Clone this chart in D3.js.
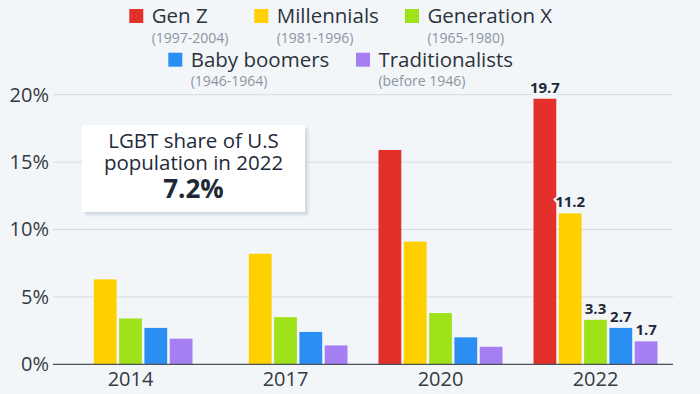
<!DOCTYPE html>
<html>
<head>
<meta charset="utf-8">
<script src="https://cdn.jsdelivr.net/npm/d3@7"></script>
<style>
  html, body { margin: 0; padding: 0; background: #f3f6f9; }
  svg { display: block; font-family: "Open Sans", "Noto Sans", sans-serif; }
</style>
</head>
<body>
<svg id="chart" width="700" height="394"></svg>
<script>
// ---- data ----
const years = ["2014", "2017", "2020", "2022"];
const seriesNames = ["Gen Z", "Millennials", "Generation X", "Baby boomers", "Traditionalists"];
const seriesSubtitles = ["(1997-2004)", "(1981-1996)", "(1965-1980)", "(1946-1964)", "(before 1946)"];
const seriesColors = ["#e3302b", "#fed000", "#9fe21a", "#2b8ef2", "#a67ff3"];
const genZ            = [null, null, 15.9, 19.7];
const millennials     = [6.3, 8.2, 9.1, 11.2];
const generationX     = [3.4, 3.5, 3.8, 3.3];
const babyBoomers     = [2.7, 2.4, 2.0, 2.7];
const traditionalists = [1.9, 1.4, 1.3, 1.7];
const yTicks = [0, 5, 10, 15, 20];
const labeledYear = "2022";
const noteLines = ["LGBT share of U.S", "population in 2022"];
const noteValue = "7.2%";

const seriesValues = [genZ, millennials, generationX, babyBoomers, traditionalists];

// ---- layout ----
const svg = d3.select("#chart");
const W = 700, H = 394;
const mLeft = 53, mRight = 673, mTop = 94.7, mBottom = 364.3;

svg.append("rect").attr("width", W).attr("height", H).attr("fill", "#f3f6f9");

const x0 = d3.scaleBand().domain(years).range([mLeft, mRight]).paddingInner(0.2).paddingOuter(0.1);
const x1 = d3.scaleBand().domain(seriesNames).range([0, x0.bandwidth()]).paddingInner(0.1);
const y = d3.scaleLinear().domain([0, 20]).range([mBottom, mTop]);

// gridlines
svg.append("g").selectAll("line").data(yTicks.filter(t => t !== 0)).join("line")
  .attr("x1", mLeft).attr("x2", mRight)
  .attr("y1", d => y(d)).attr("y2", d => y(d))
  .attr("stroke", "#d4dae0").attr("stroke-width", 1);

// y axis labels
const yAxis = d3.axisLeft(y).tickValues(yTicks).tickSize(0).tickPadding(4).tickFormat(d => d + "%");
const gy = svg.append("g").attr("transform", `translate(${mLeft},0)`).call(yAxis);
gy.select(".domain").remove();
gy.selectAll("text").attr("font-size", 20).attr("fill", "#333a42")
  .attr("font-family", "'Open Sans', sans-serif");

// annotation box
const defs = svg.append("defs");
const f = defs.append("filter").attr("id", "shadow").attr("x", "-10%").attr("y", "-10%").attr("width", "130%").attr("height", "140%");
f.append("feDropShadow").attr("dx", 3).attr("dy", 3).attr("stdDeviation", 1.5).attr("flood-color", "#c9d1da").attr("flood-opacity", 0.8);

const boxG = svg.append("g");
boxG.append("rect").attr("x", 82).attr("y", 125).attr("width", 223).attr("height", 87)
  .attr("fill", "#ffffff").attr("filter", "url(#shadow)");
const note = boxG.append("text").attr("x", 193.5).attr("y", 148.3)
  .attr("text-anchor", "middle").attr("fill", "#1e2a38");
note.selectAll("tspan.line").data(noteLines).join("tspan").attr("class", "line")
  .attr("x", 193.5).attr("dy", (d, i) => i === 0 ? 0 : 21.7)
  .attr("font-size", 20.5).text(d => d);
note.append("tspan").attr("x", 193.5).attr("dy", 28.3)
  .attr("font-size", 26).attr("font-weight", 700).text(noteValue);

// bars
const groups = svg.append("g").selectAll("g").data(years).join("g")
  .attr("transform", d => `translate(${x0(d)},0)`);

groups.selectAll("rect").data((yr, yi) => seriesNames.map((s, si) => ({ s, si, yr, v: seriesValues[si][yi] })).filter(d => d.v != null))
  .join("rect")
  .attr("x", d => x1(d.s)).attr("width", x1.bandwidth())
  .attr("y", d => y(d.v)).attr("height", d => y(0) - y(d.v))
  .attr("fill", d => seriesColors[d.si]);

// value labels for latest year
groups.filter(yr => yr === labeledYear).selectAll("text")
  .data((yr) => { const yi = years.indexOf(yr); return seriesNames.map((s, si) => ({ s, si, v: seriesValues[si][yi] })).filter(d => d.v != null); })
  .join("text")
  .attr("x", d => x1(d.s) + x1.bandwidth() / 2)
  .attr("y", d => y(d.v) - 6)
  .attr("text-anchor", "middle").attr("font-size", 15).attr("font-weight", 700)
  .attr("fill", "#1e2a38")
  .attr("stroke", "#f3f6f9").attr("stroke-width", 4).attr("paint-order", "stroke")
  .text(d => d3.format(".1f")(d.v));

// baseline
svg.append("line").attr("x1", mLeft).attr("x2", mRight).attr("y1", y(0)).attr("y2", y(0))
  .attr("stroke", "#4a525b").attr("stroke-width", 1.3);

// x axis labels
const xAxis = d3.axisBottom(x0).tickSize(0).tickPadding(8);
const gx = svg.append("g").attr("transform", `translate(0,${y(0)})`).call(xAxis);
gx.select(".domain").remove();
gx.selectAll("text").attr("font-size", 20).attr("fill", "#333a42")
  .attr("font-family", "'Open Sans', sans-serif").attr("dy", "0.71em");

// legend
const legendPos = [
  { x: 129.3, y: 9 }, { x: 254.3, y: 9 }, { x: 405, y: 9 },
  { x: 168.3, y: 52.7 }, { x: 356, y: 52.7 }
];
const lg = svg.append("g").selectAll("g").data(seriesNames).join("g")
  .attr("transform", (d, i) => `translate(${legendPos[i].x},${legendPos[i].y})`);
lg.append("rect").attr("width", 14).attr("height", 14).attr("fill", (d, i) => seriesColors[i]);
lg.append("text").attr("x", 22.4).attr("y", 14.3).attr("font-size", 20.5).attr("fill", "#2b333c").text(d => d);
lg.append("text").attr("x", 22.4).attr("y", 33.5).attr("font-size", 14).attr("fill", "#8a95a1").text((d, i) => seriesSubtitles[i]);
</script>
</body>
</html>
